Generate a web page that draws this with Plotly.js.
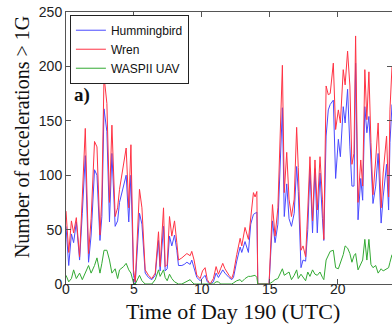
<!DOCTYPE html>
<html>
<head>
<meta charset="utf-8">
<script src="https://cdn.plot.ly/plotly-3.0.1.min.js"></script>
<style>html,body{margin:0;padding:0;background:#fff;}#chart{width:392px;height:324px;}</style>
</head>
<body>
<div id="chart"></div>
<script>
const seriesNames = ["Hummingbird", "Wren", "WASPII UAV"];
const timeHours = [0.0,0.2,0.4,0.56,0.76,1.0,1.2,1.42,1.66,1.85,2.1,2.28,2.5,2.64,2.8,3.01,3.2,3.38,3.62,3.8,3.94,4.24,4.43,4.62,4.78,4.97,5.1,5.41,5.59,5.83,6.07,6.32,6.57,6.81,6.93,7.18,7.3,7.45,7.62,7.79,7.99,8.16,8.28,8.53,8.7,8.9,9.14,9.26,9.43,9.63,9.88,10.05,10.24,10.4,10.61,10.85,11.05,11.22,11.38,11.54,11.7,11.84,12.0,12.2,12.33,12.57,12.82,12.94,13.18,13.43,13.6,13.8,13.92,14.05,14.12,14.5,14.95,15.2,15.39,15.6,15.93,16.07,16.25,16.42,16.6,16.8,16.98,17.1,17.3,17.45,17.64,17.8,17.96,18.15,18.33,18.5,18.7,18.88,18.98,19.15,19.31,19.45,19.68,19.85,20.05,20.2,20.41,20.55,20.73,20.9,21.05,21.2,21.32,21.5,21.7,21.84,22.0,22.15,22.3,22.45,22.6,22.8,22.98,23.2,23.35,23.6,23.75,23.85,24.0];
const wren = [67,29,58,47,61,25,80,143,28,60,131,126,45,80,191,166,75,146,62,70,87,113,125,70,128,13,2,87,70,13,8,5,10,48,16,70,16,18,62,44,58,38,22,24,26,28,26,30,22,8,5,12,15,4,0,5,16,9,14,19,14,11,8,5,10,27,42,35,52,41,61,84,80,85,0,0,0,73,44,70,201,84,121,78,62,78,144,107,31,35,25,68,117,58,114,68,117,78,41,182,174,175,203,142,160,148,197,183,214,182,110,120,228,75,114,90,197,151,195,130,82,114,148,70,102,136,80,160,200];
const hummingbird = [53,17,46,38,57,22,65,118,20,45,105,100,40,62,161,140,57,120,53,58,75,92,100,57,100,8,1,65,55,10,6,4,8,40,12,53,12,14,44,35,45,31,17,17,18,20,18,22,15,6,3,5,8,2,0,2,10,6,9,13,10,8,6,4,6,21,34,29,39,29,55,64,65,66,0,0,0,58,38,55,162,62,92,60,53,65,108,85,15,22,21,50,106,47,106,47,102,60,40,136,160,165,169,97,133,117,163,148,179,126,90,90,203,59,97,77,163,139,154,114,74,90,120,56,80,110,68,130,165];
const waspii = [8,2,5,13,5,10,4,11,17,10,17,24,10,19,31,31,22,10,14,5,13,16,19,13,10,1,0,8,3,0,0,0,4,13,7,13,6,3,9,5,2,1,0,0,1,2,4,2,0,0,0,0,0,0,0,0,2,2,0,0,0,0,0,0,1,3,4,2,5,7,7,8,8,6,0,0,0,2,4,5,14,8,10,11,4,8,13,5,9,6,3,11,7,13,9,8,11,6,4,22,27,30,31,15,14,20,27,35,33,28,20,26,28,13,18,22,41,22,41,18,15,17,10,14,12,14,15,20,27];
const xTicks = [0, 5, 10, 15, 20];
const yTicks = [0, 50, 100, 150, 200, 250];

const traces = [
  {x: timeHours, y: hummingbird, name: seriesNames[0], type: 'scatter', mode: 'lines', line: {color: '#4a4aff', width: 1}},
  {x: timeHours, y: wren, name: seriesNames[1], type: 'scatter', mode: 'lines', line: {color: '#ff3344', width: 1}},
  {x: timeHours, y: waspii, name: seriesNames[2], type: 'scatter', mode: 'lines', line: {color: '#33aa33', width: 1}}
];
const tickFont = {family: 'Liberation Sans, Arial, sans-serif', size: 14, color: '#222'};
const layout = {
  width: 392, height: 324,
  margin: {l: 66, r: 0, t: 12, b: 40},
  paper_bgcolor: '#fff', plot_bgcolor: '#fff',
  showlegend: true,
  legend: {x: 0.012, y: 0.99, xanchor: 'left', yanchor: 'top', bgcolor: '#fff', bordercolor: '#222', borderwidth: 1,
           font: {family: 'Liberation Sans, Arial, sans-serif', size: 12, color: '#111'}, tracegroupgap: 0,
           entrywidthmode: 'pixels', entrywidth: 100},
  xaxis: {range: [0, 24], tickvals: xTicks, ticktext: xTicks.map(String), ticks: 'inside', ticklen: 5, tickcolor: '#555',
          showline: true, linecolor: '#555', linewidth: 1, mirror: 'ticks', showgrid: false, zeroline: false,
          ticklabelstandoff: -8, tickfont: tickFont},
  yaxis: {range: [0, 250], tickvals: yTicks, ticktext: yTicks.map(String), ticks: 'inside', ticklen: 5, tickcolor: '#555',
          showline: true, linecolor: '#555', linewidth: 1, mirror: 'ticks', showgrid: false, zeroline: false,
          tickfont: tickFont},
  annotations: [
    {text: 'Time of Day 190 (UTC)', xref: 'paper', yref: 'paper', x: 0.512, y: -0.102, xanchor: 'center', yanchor: 'middle',
     showarrow: false, font: {family: 'Liberation Serif, Times New Roman, serif', size: 22, color: '#111'}},
    {text: 'Number of accelerations > 1G', xref: 'paper', yref: 'paper', x: -0.135, y: 0.54, xanchor: 'center', yanchor: 'middle',
     textangle: -90, showarrow: false, font: {family: 'Liberation Serif, Times New Roman, serif', size: 20, color: '#111'}},
    {text: '<b>a)</b>', xref: 'paper', yref: 'paper', x: 0.049, y: 0.695, xanchor: 'center', yanchor: 'middle',
     showarrow: false, font: {family: 'Liberation Serif, Times New Roman, serif', size: 19, color: '#111'}}
  ]
};
Plotly.newPlot('chart', traces, layout, {displayModeBar: false, staticPlot: true});
</script>
</body>
</html>
